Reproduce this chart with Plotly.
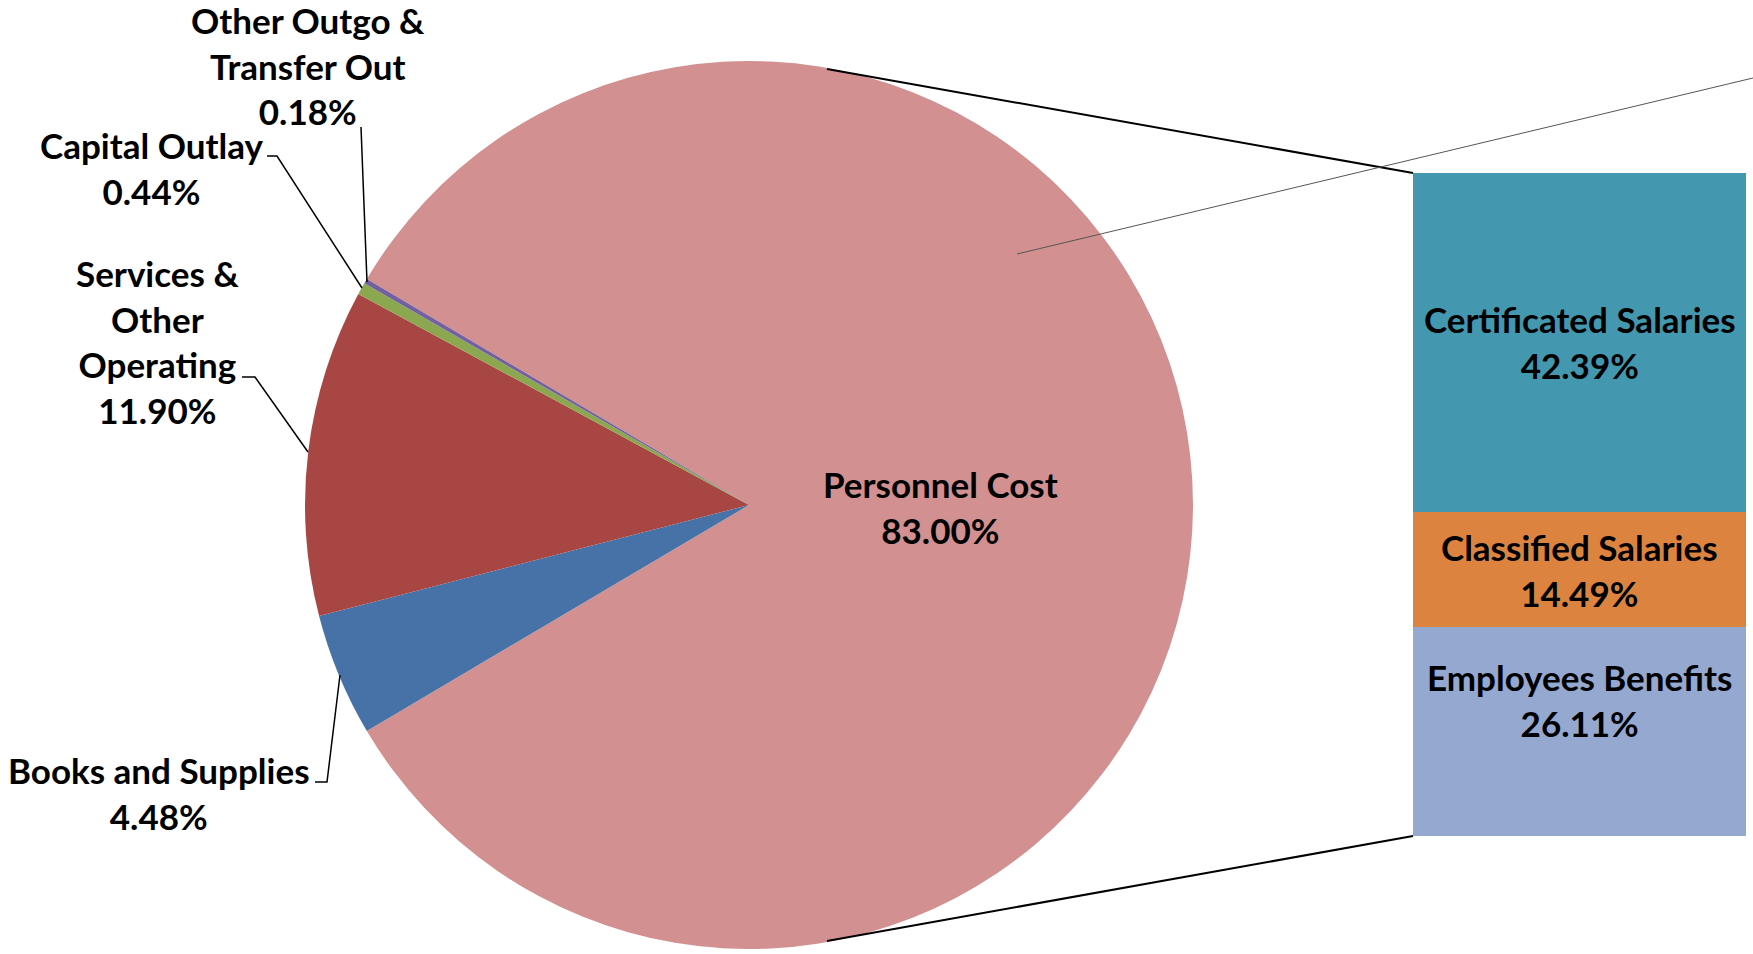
import plotly.graph_objects as go

W, H = 1753, 954

# ---- data ----
pie_labels = ["Personnel Cost", "Books and Supplies", "Services &<br>Other<br>Operating",
              "Capital Outlay", "Other Outgo &<br>Transfer Out"]
pie_values = [83.00, 4.48, 11.90, 0.44, 0.18]
pie_colors = ["#D29190", "#4672A8", "#A84644", "#8BA74F", "#7360A0"]

bar_labels = ["Employees Benefits", "Classified Salaries", "Certificated Salaries"]
bar_values = [26.11, 14.49, 42.39]
bar_colors = ["#94A8D0", "#DC843F", "#4398AF"]

FONT = dict(family="Lato", size=35, color="black", weight="bold")

def px(x):
    return x / W

def py(y):
    return 1 - y / H

# pie geometry (pixels)
cx, cy, r = 749, 505, 444

fig = go.Figure()

start_deg = 360 * pie_values[0] / 100 / 2  # personnel slice centred on the right
fig.add_trace(go.Pie(
    labels=[l.replace("<br>", " ") for l in pie_labels],
    values=pie_values,
    marker=dict(colors=pie_colors, line=dict(width=0)),
    sort=False,
    direction="clockwise",
    rotation=90 - start_deg,
    textinfo="none",
    hoverinfo="label+percent",
    showlegend=False,
    domain=dict(x=[px(cx - r), px(cx + r)], y=[py(cy + r), py(cy - r)]),
))

for lab, val, col in zip(bar_labels, bar_values, bar_colors):
    fig.add_trace(go.Bar(
        x=[0], y=[val], width=1, marker=dict(color=col, line=dict(width=0)),
        name=lab, showlegend=False, hoverinfo="name+y",
        xaxis="x", yaxis="y",
    ))

bar_left, bar_right, bar_top, bar_bottom = 1413, 1746, 173, 836

fig.update_layout(
    width=W, height=H, autosize=False,
    margin=dict(l=0, r=0, t=0, b=0),
    paper_bgcolor="white", plot_bgcolor="white",
    barmode="stack", bargap=0,
    xaxis=dict(domain=[px(bar_left), px(bar_right)], range=[-0.5, 0.5],
               visible=False, fixedrange=True),
    yaxis=dict(domain=[py(bar_bottom), py(bar_top)], range=[0, sum(bar_values)],
               visible=False, fixedrange=True),
)

# bar labels
cum = 0
shifts = [32, 0, 0]
for lab, val, sh in zip(bar_labels, bar_values, shifts):
    fig.add_annotation(x=0, y=cum + val / 2, xref="x", yref="y",
                       text=f"{lab}<br>{val:.2f}%", showarrow=False,
                       font=FONT, yshift=sh, align="center")
    cum += val

# pie labels (pixel positions of text block centres)
pie_label_pos = [(941, 507), (159, 793), (157, 342), (151, 168), (308, 65)]
for lab, val, (x, y) in zip(pie_labels, pie_values, pie_label_pos):
    fig.add_annotation(x=px(x), y=py(y), xref="paper", yref="paper",
                       text=f"{lab}<br>{val:.2f}%", showarrow=False,
                       font=FONT, align="center", xanchor="center", yanchor="middle")

def seg(points, color="black", width=1.5):
    path = "M " + " L ".join(f"{px(x)},{py(y)}" for x, y in points)
    fig.add_shape(type="path", path=path, xref="paper", yref="paper",
                  line=dict(color=color, width=width))

# leader lines
seg([(361, 127), (367, 282)])
seg([(267, 156), (277, 156), (362, 288)])
seg([(242, 377), (255, 377), (308, 452)])
seg([(315, 782), (327, 782), (340, 675)])

# connector lines to the bar
seg([(827, 69), (bar_left, bar_top)], width=2)
seg([(827, 941), (bar_left, bar_bottom)], width=2)

# thin grey line
seg([(1017, 254), (1753, 78)], color="#555555", width=1)

fig.write_html("out.html")
